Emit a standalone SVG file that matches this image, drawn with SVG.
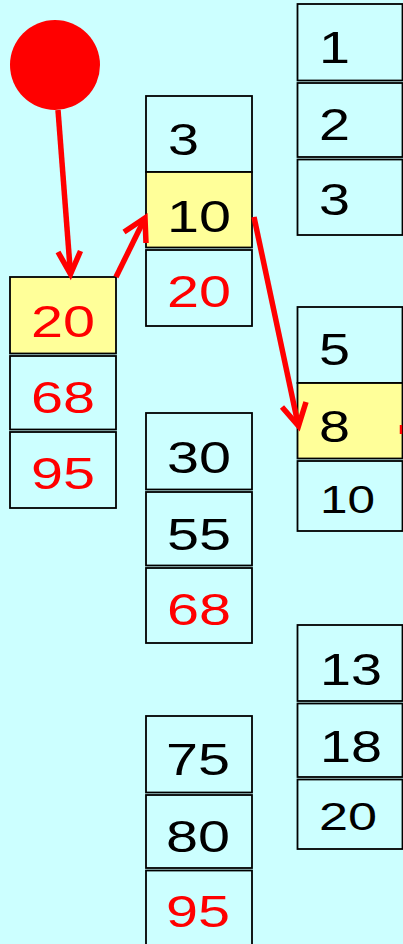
<svg xmlns="http://www.w3.org/2000/svg" width="403" height="944" viewBox="0 0 403 944">
<style>
.c{fill:#CCFFFF;stroke:#000;stroke-width:1.8}
.y{fill:#FFFF99;stroke:#000;stroke-width:1.8}
text{font-family:"Liberation Sans",Arial,sans-serif;font-size:45px;fill:#000}
.r{fill:#FF0000}
.s{font-size:39px}
.a{fill:none;stroke:#FF0000;stroke-width:5.5;stroke-linejoin:miter;stroke-linecap:butt}
</style>
<rect x="0" y="0" width="403" height="944" fill="#CCFFFF"/>
<g id="root">
<circle cx="55" cy="65" r="45" fill="#FF0000"/>
</g>
<g id="nodeA">
<rect class="y" x="10" y="277" width="106" height="76.5"/>
<rect class="c" x="10" y="356" width="106" height="73.5"/>
<rect class="c" x="10" y="432" width="106" height="76"/>
<text class="r" x="31" y="337" textLength="64" lengthAdjust="spacingAndGlyphs">20</text>
<text class="r" x="31" y="413" textLength="64" lengthAdjust="spacingAndGlyphs">68</text>
<text class="r" x="31" y="489" textLength="64" lengthAdjust="spacingAndGlyphs">95</text>
</g>
<g id="nodeB">
<rect class="c" x="146" y="96" width="106" height="76"/>
<rect class="y" x="146" y="172" width="106" height="75.5"/>
<rect class="c" x="146" y="250" width="106" height="76"/>
<text x="168" y="155" textLength="31" lengthAdjust="spacingAndGlyphs">3</text>
<text x="167" y="232" textLength="64" lengthAdjust="spacingAndGlyphs">10</text>
<text class="r" x="167" y="307" textLength="64" lengthAdjust="spacingAndGlyphs">20</text>
</g>
<g id="nodeC">
<rect class="c" x="146" y="413" width="106" height="76.5"/>
<rect class="c" x="146" y="492" width="106" height="73.5"/>
<rect class="c" x="146" y="568" width="106" height="75"/>
<text x="167" y="473" textLength="64" lengthAdjust="spacingAndGlyphs">30</text>
<text x="167" y="550" textLength="64" lengthAdjust="spacingAndGlyphs">55</text>
<text class="r" x="167" y="625" textLength="64" lengthAdjust="spacingAndGlyphs">68</text>
</g>
<g id="nodeD">
<rect class="c" x="146" y="716" width="106" height="76.5"/>
<rect class="c" x="146" y="795" width="106" height="73"/>
<rect class="c" x="146" y="870.5" width="106" height="77"/>
<text x="166" y="775" textLength="64" lengthAdjust="spacingAndGlyphs">75</text>
<text x="166" y="852" textLength="64" lengthAdjust="spacingAndGlyphs">80</text>
<text class="r" x="166" y="927" textLength="64" lengthAdjust="spacingAndGlyphs">95</text>
</g>
<g id="nodeE">
<rect class="c" x="297.5" y="4" width="105" height="76.5"/>
<rect class="c" x="297.5" y="83" width="105" height="74"/>
<rect class="c" x="297.5" y="159.5" width="105" height="75.5"/>
<text x="319" y="63" textLength="31" lengthAdjust="spacingAndGlyphs">1</text>
<text x="319" y="140" textLength="31" lengthAdjust="spacingAndGlyphs">2</text>
<text x="319" y="215" textLength="31" lengthAdjust="spacingAndGlyphs">3</text>
</g>
<g id="nodeF">
<rect class="c" x="297.5" y="307" width="105" height="76"/>
<rect class="y" x="297.5" y="383" width="105" height="75.5"/>
<rect class="c" x="297.5" y="461" width="105" height="70"/>
<text x="319" y="365" textLength="31" lengthAdjust="spacingAndGlyphs">5</text>
<text x="319" y="442" textLength="31" lengthAdjust="spacingAndGlyphs">8</text>
<text class="s" x="320" y="513" textLength="55" lengthAdjust="spacingAndGlyphs">10</text>
</g>
<g id="nodeG">
<rect class="c" x="297.5" y="625" width="105" height="76"/>
<rect class="c" x="297.5" y="703.5" width="105" height="73.5"/>
<rect class="c" x="297.5" y="779.5" width="105" height="69.5"/>
<text x="320" y="685" textLength="62" lengthAdjust="spacingAndGlyphs">13</text>
<text x="320" y="762" textLength="62" lengthAdjust="spacingAndGlyphs">18</text>
<text class="s" x="319" y="830" textLength="58" lengthAdjust="spacingAndGlyphs">20</text>
</g>
<g id="connectors">
<path class="a" d="M58,110 L70.5,274"/>
<path class="a" d="M58,252 L70.5,274 L80.5,251"/>
<path class="a" d="M116,277 L144,220"/>
<path class="a" d="M124,232 L145,218 L146,243"/>
<path class="a" d="M254,217 L298,424"/>
<path class="a" d="M282,407 L298.5,426 L306,402"/>
<path class="a" style="stroke-width:2.5" d="M401,425 L401,434"/>
</g>
</svg>
